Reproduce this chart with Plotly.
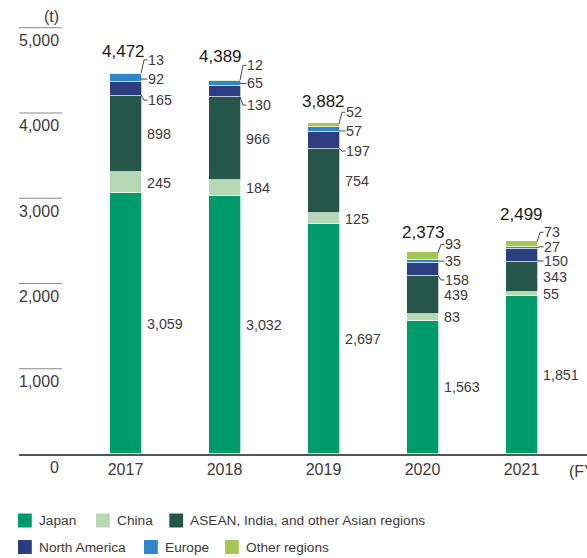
import plotly.graph_objects as go

# ---- data -------------------------------------------------------------
years = ["2017", "2018", "2019", "2020", "2021"]
totals = [4472, 4389, 3882, 2373, 2499]
japan = [3059, 3032, 2697, 1563, 1851]
china = [245, 184, 125, 83, 55]
asean = [898, 966, 754, 439, 343]
north_america = [165, 130, 197, 158, 150]
europe = [92, 65, 57, 35, 27]
other = [13, 12, 52, 93, 73]
y_ticks = [0, 1000, 2000, 3000, 4000, 5000]

series_names = ["Japan", "China", "ASEAN, India, and other Asian regions",
                "North America", "Europe", "Other regions"]
series_values = [japan, china, asean, north_america, europe, other]
series_colors = ["#009b6b", "#b6d8b4", "#255649", "#2c3e80", "#2f86c9", "#a3c655"]

# ---- layout constants ---------------------------------------------------
W, H = 587, 558
ML, MR, MT, MB = 19, 0, 10, 104
PW, PH = W - ML - MR, H - MT - MB
Y_MAX = 5208
PX_PER_UNIT = PH / Y_MAX
STEP_PX = 99.0            # pixel distance between bars
FIRST_PX = 125.5          # pixel centre of first bar
BAR_PX = 32
X_MIN = -(FIRST_PX - ML) / STEP_PX
X_MAX = (W - FIRST_PX) / STEP_PX

FONT = "Liberation Sans, Arial, Helvetica, sans-serif"
TXT = "#3e3a39"

# label offsets (screen pixels, down = positive) for the thin upper segments
other_dy = [-13.4, -15.0, -13.0, -11.5, -11.8]
europe_dy = [1.3, -0.2, 1.1, -0.2, -1.6]
na_dy = [11.4, 13.2, 10.3, 10.5, 5.1]
total_yshift = [21, 23, 22, 19.5, 26]
total_xshift = [-2, -4, -0.5, 0.5, 0]


def px_x(p):
    return (p - ML) / PW


def px_y(p):
    return (H - MB - p) / PH


xs = list(range(len(years)))
fig = go.Figure()
for name, vals, col in zip(series_names, series_values, series_colors):
    fig.add_trace(go.Bar(
        x=xs, y=vals, name=name, width=BAR_PX / STEP_PX,
        marker=dict(color=col, line=dict(color="white", width=0.7)),
        showlegend=False, hoverinfo="skip"))

annotations = []
shapes = []

# y-axis labels with short rules above them
for v in y_ticks:
    annotations.append(dict(
        x=px_x(60.5), xref="paper", y=v, yref="y", xanchor="right",
        yanchor="middle", yshift=-13, text=f"{v:,}", showarrow=False,
        font=dict(size=16, color=TXT, family=FONT)))
    if v > 0:
        shapes.append(dict(type="line", xref="paper", yref="y",
                           x0=px_x(19), x1=px_x(62), y0=v, y1=v,
                           line=dict(color="#8a8a8a", width=1)))
annotations.append(dict(
    x=px_x(60.5), xref="paper", y=y_ticks[-1], yref="y", xanchor="right",
    yanchor="middle", yshift=11, text="(t)", showarrow=False,
    font=dict(size=16, color=TXT, family=FONT)))

# unit of the x axis
annotations.append(dict(
    x=px_x(567), xref="paper", y=px_y(471), yref="paper", xanchor="left",
    yanchor="middle", text="(FY)", showarrow=False,
    font=dict(size=16, color=TXT, family=FONT)))

seg_label_font = dict(size=14.3, color=TXT, family=FONT)
for i in xs:
    base = 0
    bounds = []
    for vals in series_values:
        bounds.append((base, base + vals[i]))
        base += vals[i]
    # large segments: label at the segment centre
    for k in range(3):
        lo, hi = bounds[k]
        annotations.append(dict(
            x=i, y=(lo + hi) / 2, xref="x", yref="y", xanchor="left",
            yanchor="middle", xshift=19.5, text=f"{series_values[k][i]:,}",
            showarrow=False, font=seg_label_font))
    # thin segments: offset labels with leader lines
    for k, dys in ((3, na_dy), (4, europe_dy), (5, other_dy)):
        lo, hi = bounds[k]
        mid = (lo + hi) / 2
        half = (hi - lo) / 2 * PX_PER_UNIT
        dy = dys[i]
        a = max(-half + 0.8, min(half - 0.8, dy))
        if half < 0.8:
            a = 0
        annotations.append(dict(
            x=i, y=mid, xref="x", yref="y", xanchor="left", yanchor="middle",
            xshift=20.5, yshift=-dy, text=f"{series_values[k][i]:,}",
            showarrow=False, font=seg_label_font))
        half_bar = BAR_PX / 2 - 0.5
        shapes.append(dict(
            type="path", xref="x", yref="y", xsizemode="pixel",
            ysizemode="pixel", xanchor=i, yanchor=mid,
            path=(f"M {half_bar},{-a} L {half_bar + 3},{-dy} "
                  f"L {half_bar + 6.5},{-dy}"),
            line=dict(color="#4a4a4a", width=1)))
    # totals above the bars
    annotations.append(dict(
        x=i, y=base, xref="x", yref="y", xanchor="center", yanchor="middle",
        xshift=total_xshift[i], yshift=total_yshift[i], text=f"{totals[i]:,}",
        showarrow=False, font=dict(size=17, color="#1a1a1a", family=FONT)))

# legend drawn as swatches and labels in two rows
legend_pos = [(18, 520.5), (96, 520.5), (169.3, 520.5),
              (18, 547), (144, 547), (225, 547)]
for (lx, ly), name, col in zip(legend_pos, series_names, series_colors):
    shapes.append(dict(type="rect", xref="paper", yref="paper",
                       x0=px_x(lx), x1=px_x(lx + 13.8),
                       y0=px_y(ly - 7), y1=px_y(ly + 7),
                       fillcolor=col, line=dict(width=0)))
    annotations.append(dict(
        x=px_x(lx + 18.5), xref="paper", y=px_y(ly), yref="paper",
        xanchor="left", yanchor="middle", text=name, showarrow=False,
        font=dict(size=13.7, color=TXT, family=FONT)))

fig.update_layout(
    width=W, height=H, autosize=False,
    margin=dict(l=ML, r=MR, t=MT, b=MB, pad=0),
    paper_bgcolor="white", plot_bgcolor="white",
    barmode="stack", bargap=0,
    xaxis=dict(range=[X_MIN, X_MAX], tickmode="array", tickvals=xs,
               ticktext=years, showgrid=False, zeroline=False,
               showline=True, linecolor="#555555", linewidth=1.5,
               ticks="", tickfont=dict(size=16, color=TXT, family=FONT),
               fixedrange=True),
    yaxis=dict(range=[0, Y_MAX], showgrid=False, zeroline=False,
               showticklabels=False, showline=False, fixedrange=True),
    annotations=annotations, shapes=shapes,
)

fig.write_html("out.html")
